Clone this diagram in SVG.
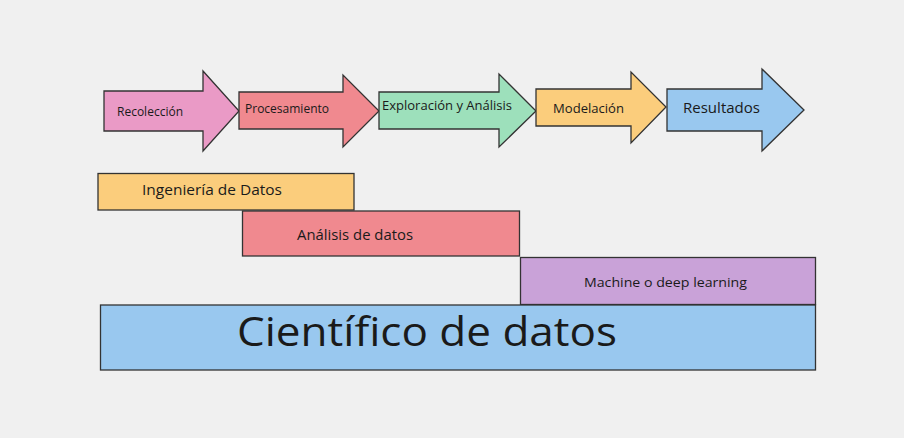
<svg xmlns="http://www.w3.org/2000/svg" width="904" height="438" viewBox="0 0 904 438">
<style>
.shape{stroke:#333;stroke-width:1.3;stroke-linejoin:miter}
.t{font-family:"Open Sans","Liberation Sans",sans-serif;fill:#1a1a1a}
</style>
<rect width="904" height="438" fill="#f0f0f0"/>
<g id="arrow-recoleccion">
<path class="shape" fill="#ea9ac6" d="M104,91 H203 V71 L239,111 L203,151 V131 H104 Z"/>
<text class="t" x="117" y="116" font-size="13" textLength="66" lengthAdjust="spacingAndGlyphs">Recolección</text>
</g>
<g id="arrow-procesamiento">
<path class="shape" fill="#f0898f" d="M239,92 H343 V75 L379,111 L343,147 V129 H239 Z"/>
<text class="t" x="245" y="113" font-size="12" textLength="84" lengthAdjust="spacingAndGlyphs">Procesamiento</text>
</g>
<g id="arrow-exploracion">
<path class="shape" fill="#9de0bb" d="M379,92 H499 V74 L536,111 L499,147 V129 H379 Z"/>
<text class="t" x="382" y="110" font-size="12" textLength="130" lengthAdjust="spacingAndGlyphs">Exploración y Análisis</text>
</g>
<g id="arrow-modelacion">
<path class="shape" fill="#fbcd7c" d="M536,89 H631 V72 L666,107 L631,143 V126 H536 Z"/>
<text class="t" x="553" y="113" font-size="13" textLength="71" lengthAdjust="spacingAndGlyphs">Modelación</text>
</g>
<g id="arrow-resultados">
<path class="shape" fill="#99c8ef" d="M667,89 H762 V69 L804,110 L762,151 V131 H667 Z"/>
<text class="t" x="683" y="113" font-size="14" textLength="77" lengthAdjust="spacingAndGlyphs">Resultados</text>
</g>
<g id="ingenieria">
<rect class="shape" fill="#fbcd7c" x="98" y="173.5" width="256" height="36.5"/>
<text class="t" x="142" y="195" font-size="14" textLength="140" lengthAdjust="spacingAndGlyphs">Ingeniería de Datos</text>
</g>
<g id="analisis">
<rect class="shape" fill="#f0898f" x="242.5" y="211" width="277" height="45"/>
<text class="t" x="297" y="240" font-size="14" textLength="116" lengthAdjust="spacingAndGlyphs">Análisis de datos</text>
</g>
<g id="machine">
<rect class="shape" fill="#c9a2d8" x="520.5" y="257.5" width="295" height="47"/>
<text class="t" x="584" y="287" font-size="13" textLength="163" lengthAdjust="spacingAndGlyphs">Machine o deep learning</text>
</g>
<g id="cientifico">
<rect class="shape" fill="#99c8ef" x="100.5" y="305" width="715" height="65"/>
<text class="t" x="237" y="346" font-size="40" textLength="380" lengthAdjust="spacingAndGlyphs">Científico de datos</text>
</g>
<g id="connectors"/>
</svg>
